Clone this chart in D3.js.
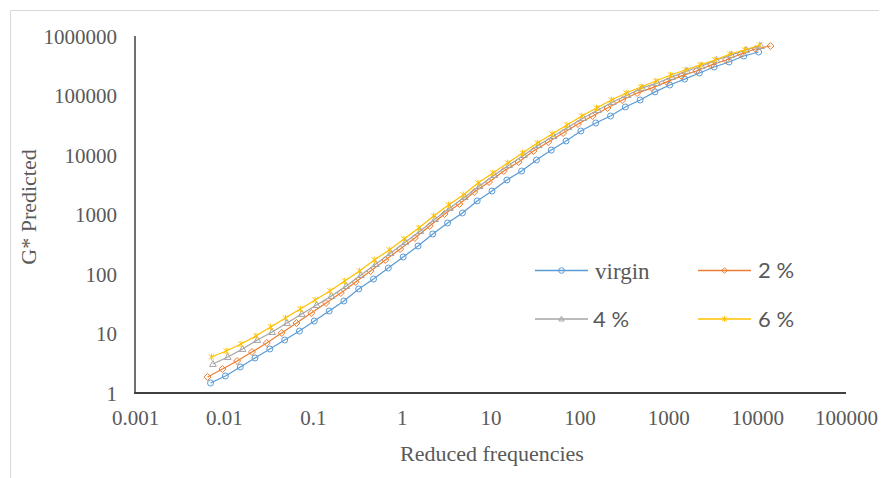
<!DOCTYPE html>
<html>
<head>
<meta charset="utf-8">
<script src="https://cdnjs.cloudflare.com/ajax/libs/d3/7.8.5/d3.min.js"></script>
<style>
    body { margin: 0; background: #fff; }
</style>
</head>
<body>
<script>
// reduced frequencies and G* for each series
var freqVirgin = [0.00708, 0.0104, 0.0153, 0.0224, 0.0329, 0.0483, 0.0708, 0.104, 0.153, 0.224, 0.329, 0.483, 0.708, 1.04, 1.53, 2.24, 3.29, 4.83, 7.08, 10.4, 15.3, 22.4, 32.9, 48.3, 70.8, 104, 153, 224, 329, 483, 708, 1040, 1530, 2240, 3290, 4830, 7080, 10400];
var gVirgin = [1.47, 1.93, 2.74, 3.88, 5.49, 7.78, 11.0, 16.2, 23.9, 35.2, 56.0, 82.4, 126, 193, 296, 470, 720, 1060, 1690, 2480, 3800, 5380, 8240, 12100, 17200, 25300, 34500, 45200, 64100, 84000, 115000, 150000, 189000, 239000, 301000, 366000, 461000, 538000];

var freq2 = [0.00656, 0.00963, 0.0141, 0.0207, 0.0304, 0.0447, 0.0656, 0.0963, 0.141, 0.207, 0.304, 0.447, 0.656, 0.963, 1.41, 2.07, 3.04, 4.47, 6.56, 9.63, 14.1, 20.7, 30.4, 44.7, 65.6, 96.3, 141, 207, 304, 447, 656, 963, 1410, 2070, 3040, 4470, 6560, 9630, 14100];
var g2 = [1.86, 2.53, 3.45, 4.89, 6.92, 10.2, 15.0, 22.1, 32.6, 48.0, 73.4, 112, 172, 263, 403, 641, 1020, 1500, 2390, 3520, 5380, 7620, 11700, 16500, 23400, 33200, 45200, 61600, 84000, 110000, 134000, 169000, 213000, 258000, 326000, 395000, 498000, 605000, 679000];

var freq4 = [0.00753, 0.01105, 0.01622, 0.0238, 0.0349, 0.0513, 0.0753, 0.1105, 0.1622, 0.238, 0.349, 0.513, 0.753, 1.105, 1.622, 2.38, 3.49, 5.13, 7.53, 11.05, 16.22, 23.8, 34.9, 51.3, 75.3, 110.5, 162.2, 238, 349, 513, 753, 1105, 1622, 2380, 3490, 5130, 7530, 11050];
var g4 = [3.07, 4.03, 5.49, 7.78, 10.6, 15.0, 21.3, 30.1, 42.7, 62.8, 96.2, 147, 225, 345, 528, 840, 1290, 1970, 3010, 4610, 6790, 10000, 14700, 20800, 29600, 41900, 57000, 77800, 102000, 134000, 162000, 205000, 258000, 313000, 395000, 480000, 582000, 679000];

var freq6 = [0.00724, 0.01063, 0.0156, 0.0229, 0.0336, 0.0493, 0.0724, 0.1063, 0.156, 0.229, 0.336, 0.493, 0.724, 1.063, 1.56, 2.29, 3.36, 4.93, 7.24, 10.63, 15.6, 22.9, 33.6, 49.3, 72.4, 106.3, 156, 229, 336, 493, 724, 1063, 1560, 2290, 3360, 4930, 7240, 10630];
var g6 = [4.03, 5.08, 6.66, 9.08, 12.9, 18.2, 25.8, 36.6, 51.8, 76.2, 112, 172, 253, 387, 593, 944, 1450, 2130, 3380, 4980, 7340, 10800, 15900, 22500, 31900, 45200, 61600, 84000, 110000, 139000, 175000, 221000, 268000, 326000, 395000, 498000, 582000, 706000];

var seriesNames = ['virgin', '2 %', '4 %', '6 %'];
var xTicks = [0.001, 0.01, 0.1, 1, 10, 100, 1000, 10000, 100000];
var yTicks = [1, 10, 100, 1000, 10000, 100000, 1000000];

var series = [
    { name: seriesNames[0], x: freqVirgin, y: gVirgin, color: '#5B9BD5', marker: 'circle' },
    { name: seriesNames[1], x: freq2, y: g2, color: '#ED7D31', marker: 'diamond' },
    { name: seriesNames[2], x: freq4, y: g4, color: '#A5A5A5', marker: 'triangle' },
    { name: seriesNames[3], x: freq6, y: g6, color: '#FFC000', marker: 'star' }
];

var W = 886, H = 478;
var serif = '"Liberation Serif", "Times New Roman", serif';
var sans = 'Lato, "Liberation Sans", sans-serif';

var svg = d3.select('body').append('svg').attr('width', W).attr('height', H);
svg.append('rect').attr('width', W).attr('height', H).attr('fill', '#fff');

// chart area outline (only top and left visible in the crop)
svg.append('path').attr('d', 'M10.5,' + H + 'V10.5H879')
    .attr('fill', 'none').attr('stroke', '#d9d9d9').attr('stroke-width', 1);

var x = d3.scaleLog().domain([0.001, 100000]).range([135, 846]);
var y = d3.scaleLog().domain([1, 1000000]).range([393, 36]);

// axis labels, excel style: no tick marks
var xAxis = svg.append('g').attr('transform', 'translate(0,393)')
    .call(d3.axisBottom(x).tickValues(xTicks).tickSize(0).tickPadding(17).tickFormat(function(d) { return String(d); }));
var yAxis = svg.append('g').attr('transform', 'translate(135,0)')
    .call(d3.axisLeft(y).tickValues(yTicks).tickSize(0).tickPadding(18).tickFormat(function(d) { return String(d); }));

[xAxis, yAxis].forEach(function(g) {
    g.select('.domain').remove();
    g.attr('font-family', serif).attr('font-size', 21);
    g.selectAll('text').attr('fill', '#595959').style('font-family', serif).style('font-size', '21px');
});
yAxis.selectAll('text').attr('dy', '0.35em');

svg.append('line').attr('x1', 135).attr('x2', 135).attr('y1', 36).attr('y2', 393)
    .attr('stroke', '#404040').attr('stroke-width', 1.5);
svg.append('line').attr('x1', 134).attr('x2', 846).attr('y1', 393).attr('y2', 393)
    .attr('stroke', '#404040').attr('stroke-width', 2);

svg.append('text').attr('x', 492).attr('y', 461).attr('text-anchor', 'middle')
    .attr('fill', '#595959').style('font-family', serif).style('font-size', '22px')
    .text('Reduced frequencies');
svg.append('text').attr('transform', 'translate(36,207) rotate(-90)').attr('text-anchor', 'middle')
    .attr('fill', '#595959').style('font-family', serif).style('font-size', '22px')
    .text('G* Predicted');

function markerPath(type, s) {
    if (type === 'diamond') return 'M0,' + (-s) + 'L' + s + ',0L0,' + s + 'L' + (-s) + ',0Z';
    if (type === 'triangle') return 'M0,' + (-s) + 'L' + (s * 0.95) + ',' + (s * 0.7) + 'L' + (-s * 0.95) + ',' + (s * 0.7) + 'Z';
    if (type === 'star') return 'M0,' + (-s) + 'V' + s +
        'M' + (-s * 0.8) + ',' + (-s * 0.8) + 'L' + (s * 0.8) + ',' + (s * 0.8) +
        'M' + (s * 0.8) + ',' + (-s * 0.8) + 'L' + (-s * 0.8) + ',' + (s * 0.8);
    return null;
}

function drawMarker(g, type, color, cx, cy, s) {
    if (type === 'circle') {
        g.append('circle').attr('cx', cx).attr('cy', cy).attr('r', s)
            .attr('fill', 'none').attr('stroke', color).attr('stroke-width', 1);
    } else {
        g.append('path').attr('transform', 'translate(' + cx + ',' + cy + ')')
            .attr('d', markerPath(type, s))
            .attr('fill', 'none').attr('stroke', color).attr('stroke-width', 1);
    }
}

var line = d3.line().x(function(d) { return x(d[0]); }).y(function(d) { return y(d[1]); });

series.forEach(function(s) {
    var pts = d3.zip(s.x, s.y);
    var g = svg.append('g');
    g.append('path').datum(pts).attr('d', line)
        .attr('fill', 'none').attr('stroke', s.color).attr('stroke-width', 1.25);
    var size = s.marker === 'circle' ? 3 : (s.marker === 'star' ? 3.3 : 3.5);
    pts.forEach(function(p) {
        drawMarker(g, s.marker, s.color, x(p[0]), y(p[1]), size);
    });
});

// legend, two columns by two rows
var legendPos = [[535, 270.5], [698, 270.5], [535, 319], [698, 319]];
series.forEach(function(s, i) {
    var lx = legendPos[i][0], ly = legendPos[i][1];
    var g = svg.append('g');
    g.append('line').attr('x1', lx).attr('x2', lx + 53).attr('y1', ly).attr('y2', ly)
        .attr('stroke', s.color).attr('stroke-width', 1.5);
    drawMarker(g, s.marker, s.color, lx + 26.5, ly, 2.8);
    g.append('text').attr('x', lx + (i === 2 ? 58 : 60)).attr('y', ly).attr('dy', '0.35em')
        .attr('fill', '#595959')
        .style('font-family', i === 0 ? serif : sans).style('font-size', i === 0 ? '23px' : '22px')
        .text(s.name);
});
</script>
</body>
</html>
